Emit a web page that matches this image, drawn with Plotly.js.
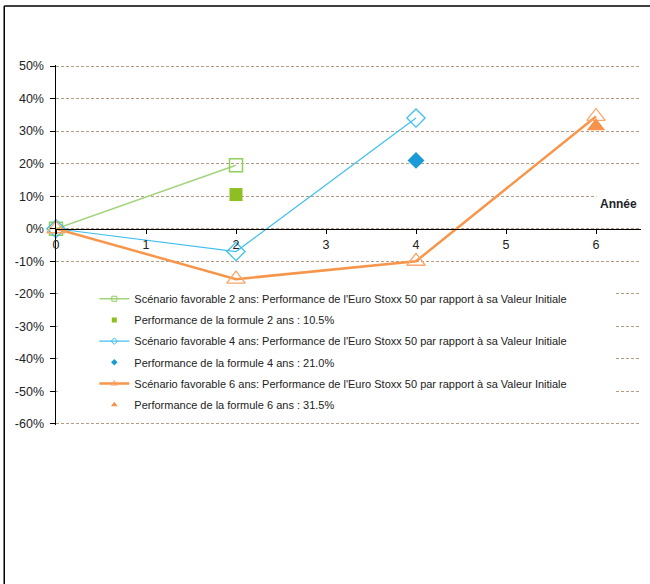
<!DOCTYPE html>
<html>
<head>
<meta charset="utf-8">
<script src="https://cdn.plot.ly/plotly-3.0.1.min.js"></script>
<style>html,body{margin:0;padding:0;background:#fff;}#chart{width:650px;height:584px;}</style>
</head>
<body>
<div id="chart"></div>
<script>
// ---- data ----
const years2 = [0, 2];
const scen2 = [0, 0.195];
const years4 = [0, 2, 4];
const scen4 = [0, -0.07, 0.34];
const years6 = [0, 2, 4, 6];
const scen6 = [0, -0.155, -0.10, 0.345];
const form2X = [2];
const form2Y = [0.105];
const form4X = [4];
const form4Y = [0.21];
const form6X = [6];
const form6Y = [0.315];
const seriesNames = [
  "Scénario favorable 2 ans: Performance de l'Euro Stoxx 50 par rapport à sa Valeur Initiale",
  "Performance de la formule 2 ans : 10.5%",
  "Scénario favorable 4 ans: Performance de l'Euro Stoxx 50 par rapport à sa Valeur Initiale",
  "Performance de la formule 4 ans : 21.0%",
  "Scénario favorable 6 ans: Performance de l'Euro Stoxx 50 par rapport à sa Valeur Initiale",
  "Performance de la formule 6 ans : 31.5%"
];
const xTickVals = [0, 1, 2, 3, 4, 5, 6];
const xTickText = ["0", "1", "2", "3", "4", "5", "6"];
const yTickVals = [-0.6, -0.5, -0.4, -0.3, -0.2, -0.1, 0, 0.1, 0.2, 0.3, 0.4, 0.5];
const yTickText = ["-60%", "-50%", "-40%", "-30%", "-20%", "-10%", "0%", "10%", "20%", "30%", "40%", "50%"];
const xAxisTitle = "Année";

// ---- styles ----
const green = '#a3d47c', greenM = '#8fcf5e', greenF = '#8dbf22';
const blue = '#3fc0ef', blueF = '#1b9ad8';
const orange = '#f7964a', orangeM = '#f9a66c', orangeF = '#f7934a';

const yRange = [-0.6031, 0.5031];

const traces = [
  {x: years2, y: scen2, mode: 'lines+markers', name: seriesNames[0], showlegend: false, cliponaxis: false,
   line: {color: green, width: 1.5},
   marker: {symbol: 'square-open', size: 13, color: greenM, line: {width: 1.5}}},
  {x: form2X, y: form2Y, mode: 'markers', name: seriesNames[1], showlegend: false, cliponaxis: false,
   marker: {symbol: 'square', size: 13, color: greenF}},
  {x: years4, y: scen4, mode: 'lines+markers', name: seriesNames[2], showlegend: false, cliponaxis: false,
   line: {color: blue, width: 1.2},
   marker: {symbol: 'diamond-open', size: 14, color: blue, line: {width: 1.3}}},
  {x: form4X, y: form4Y, mode: 'markers', name: seriesNames[3], showlegend: false, cliponaxis: false,
   marker: {symbol: 'diamond', size: 13, color: blueF}},
  {x: years6, y: scen6, mode: 'lines+markers', name: seriesNames[4], showlegend: false, cliponaxis: false,
   line: {color: orange, width: 2.5},
   marker: {symbol: 'triangle-up-open', size: 16, color: orangeM, line: {width: 1.3}}},
  {x: form6X, y: form6Y, mode: 'markers', name: seriesNames[5], showlegend: false, cliponaxis: false,
   marker: {symbol: 'triangle-up', size: 16, color: orangeF}},
  // legend-only entries with small symbols
  {x: [null], y: [null], mode: 'lines+markers', name: seriesNames[0], legendgroup: 'g1',
   line: {color: green, width: 1.5}, marker: {symbol: 'square-open', size: 5, color: greenM}},
  {x: [null], y: [null], mode: 'markers', name: seriesNames[1], legendgroup: 'g2',
   marker: {symbol: 'square', size: 5, color: greenF}},
  {x: [null], y: [null], mode: 'lines+markers', name: seriesNames[2], legendgroup: 'g3',
   line: {color: blue, width: 1.2}, marker: {symbol: 'diamond-open', size: 5, color: blue}},
  {x: [null], y: [null], mode: 'markers', name: seriesNames[3], legendgroup: 'g4',
   marker: {symbol: 'diamond', size: 5, color: blueF}},
  {x: [null], y: [null], mode: 'lines+markers', name: seriesNames[4], legendgroup: 'g5',
   line: {color: orange, width: 2.5}, marker: {symbol: 'triangle-up-open', size: 6, color: orangeM}},
  {x: [null], y: [null], mode: 'markers', name: seriesNames[5], legendgroup: 'g6',
   marker: {symbol: 'triangle-up', size: 6, color: orangeF}}
];

const layout = {
  width: 650, height: 584,
  margin: {l: 56, r: 9, t: 65, b: 159, pad: 0},
  paper_bgcolor: '#ffffff', plot_bgcolor: '#ffffff',
  font: {family: 'Arial, "Liberation Sans", sans-serif', size: 12, color: '#222'},
  showlegend: true,
  legend: {
    x: 0.0655, y: 0.391, xanchor: 'left', yanchor: 'top',
    bgcolor: 'rgba(255,255,255,0)', borderwidth: 0,
    traceorder: 'grouped', tracegroupgap: 2.2,
    font: {size: 11, color: '#222'}
  },
  xaxis: {
    range: [0, 6.5], tickvals: xTickVals, ticktext: xTickText,
    anchor: 'free', position: (0 - yRange[0]) / (yRange[1] - yRange[0]),
    showline: true, linecolor: '#000', linewidth: 1.5,
    ticks: 'outside', ticklen: 4, tickcolor: '#000', tickwidth: 1,
    showgrid: false, zeroline: false,
    tickfont: {size: 12.5, color: '#222'}
  },
  yaxis: {
    range: yRange, tickvals: yTickVals, ticktext: yTickText,
    showline: true, linecolor: '#000', linewidth: 1.5,
    ticks: 'outside', ticklen: 5, tickcolor: '#000', tickwidth: 1,
    ticklabelstandoff: 3,
    showgrid: true, gridcolor: '#b49c84', gridwidth: 1, griddash: '3px,2px',
    zeroline: false,
    tickfont: {size: 12.5, color: '#222'}
  },
  annotations: [{
    text: '<b>' + xAxisTitle + '</b>', xref: 'paper', yref: 'y', x: 1, y: 0.077,
    xanchor: 'right', yanchor: 'middle', showarrow: false,
    bgcolor: '#ffffff', borderpad: 3, font: {size: 12, color: '#1e1e28'}
  }],
  shapes: [
    {type: 'rect', xref: 'paper', yref: 'paper', x0: 0.003, x1: 0.9556, y0: 0.025, y1: 0.383,
     fillcolor: '#ffffff', line: {width: 0}, layer: 'above'},
    {type: 'line', xref: 'paper', yref: 'paper', x0: -0.0885, x1: -0.0885, y0: 1.1639, y1: -0.45,
     line: {color: '#000', width: 1.5}},
    {type: 'line', xref: 'paper', yref: 'paper', x0: -0.0885, x1: 1.02, y0: 1.1639, y1: 1.1639,
     line: {color: '#000', width: 1.5}}
  ]
};

Plotly.newPlot('chart', traces, layout, {displayModeBar: false, staticPlot: true});
</script>
</body>
</html>
